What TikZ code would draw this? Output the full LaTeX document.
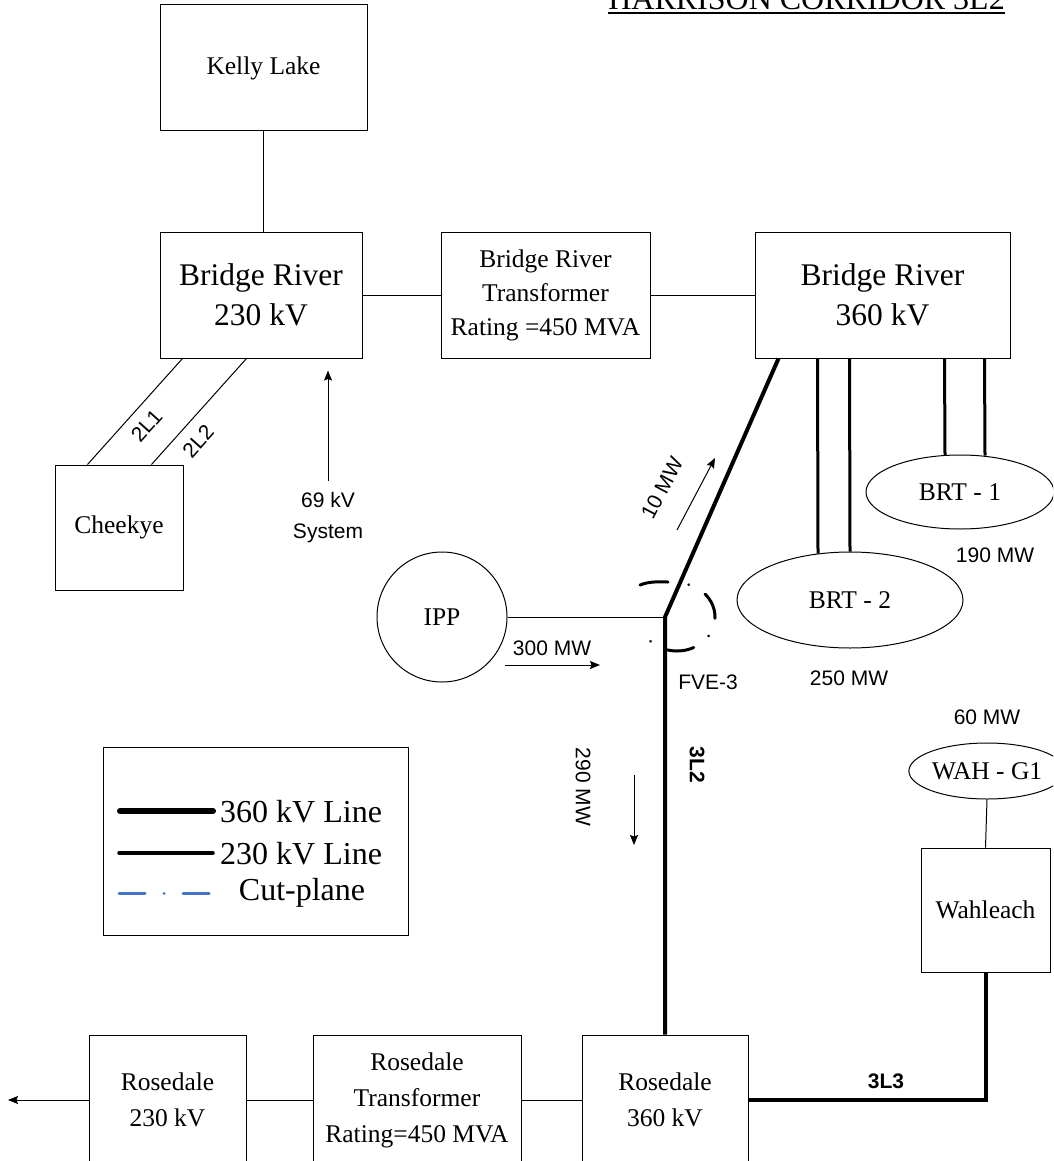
\documentclass[tikz,border=0pt]{standalone}
\usepackage{fontspec}
\setmainfont{Liberation Serif}
\setsansfont{Liberation Sans}
\usetikzlibrary{shapes.geometric,arrows,arrows.meta,positioning,calc}
\definecolor{cutblue}{RGB}{68,114,196}
\newcommand{\boxfont}{\fontsize{25.5}{34}\selectfont}
\newcommand{\rosfont}{\fontsize{25.5}{36}\selectfont}
\newcommand{\bigboxfont}{\fontsize{31.5}{40}\selectfont}
\newcommand{\legendfont}{\fontsize{32}{36}\selectfont}
\newcommand{\flowfont}{\sffamily\fontsize{21}{31}\selectfont}
\newcommand{\titlefont}{\fontsize{32}{36}\selectfont}

\begin{document}
\begin{tikzpicture}[
    x=1pt, y=-1pt,
    every node/.style={align=center},
    station/.style={rectangle, draw, line width=1pt, font=\boxfont, inner sep=0pt},
    bigstation/.style={station, font=\bigboxfont},
    rosstation/.style={station, font=\rosfont},
    unit/.style={ellipse, draw, line width=1pt, font=\boxfont, inner sep=0pt},
    flowlabel/.style={font=\flowfont},
    linelabel/.style={font=\flowfont\bfseries},
    line230/.style={line width=1pt},
    line360/.style={line width=4pt},
    tie/.style={line width=3pt},
    flow/.style={line width=1pt,-{Stealth[length=10pt,width=8pt,inset=1.5pt]}},
    cutplane/.style={line width=3pt, line cap=round}
]
\useasboundingbox (0,0) rectangle (1053,1161);
\clip (0,0) rectangle (1053,1161);
\fill[white] (0,0) rectangle (1053,1161);

% Title
\node[anchor=base east, font=\titlefont, inner sep=0pt] (title) at (1005,10) {HARRISON CORRIDOR 3L2};
\draw[line width=2pt] ($(title.base west)+(0,3)$) -- ($(title.base east)+(0,3)$);

% Northern stations
\node[station, minimum width=207pt, minimum height=126pt] (kelly) at (263.5,68) {Kelly Lake};
\node[bigstation, minimum width=202pt, minimum height=126pt] (br230) at (261,295) {Bridge River\\230 kV};
\node[station, minimum width=209pt, minimum height=126pt] (brtx) at (545.5,295) {Bridge River\\Transformer\\Rating =450 MVA};
\node[bigstation, minimum width=255pt, minimum height=126pt] (br360) at (882.5,295) {Bridge River\\360 kV};
\node[station, minimum width=128pt, minimum height=125pt] (cheekye) at (119,527.5) {Cheekye};

% Generation
\node[circle, draw, line width=1pt, minimum size=130pt, inner sep=0pt, font=\boxfont] (ipp) at (442,617) {IPP};
\node[unit, minimum width=188pt, minimum height=74pt] (brt1) at (960,492) {BRT - 1};
\node[unit, minimum width=226pt, minimum height=96pt] (brt2) at (850,600) {BRT - 2};
\node[unit, minimum width=128pt, minimum height=56pt] (wahg1) at (987,771) {WAH - G1};
\node[station, minimum width=129pt, minimum height=124pt] (wahleach) at (985.5,910) {Wahleach};

% Southern stations
\node[rosstation, minimum width=166pt, minimum height=130pt] (ros360) at (665,1100) {Rosedale\\360 kV};
\node[rosstation, minimum width=208pt, minimum height=130pt] (rostx) at (417,1100) {Rosedale\\Transformer\\Rating=450 MVA};
\node[rosstation, minimum width=157pt, minimum height=130pt] (ros230) at (167.5,1100) {Rosedale\\230 kV};

% Junction and free ends
\coordinate (fve) at (665,617);
\coordinate (westout) at (8,1100);
\coordinate (f300a) at (505,665);
\coordinate (f300b) at (600,665);
\coordinate (f10a) at (677,530);
\coordinate (f10b) at (715,458);
\coordinate (f290a) at (634,775);
\coordinate (f290b) at (634,845);

% Labels
\node[flowlabel] (sys69) at (328,518) {69 kV\\System};
\node[flowlabel] (mw300) at (552,648) {300 MW};
\node[flowlabel] (fve3) at (708,682) {FVE-3};
\node[flowlabel, rotate=62] (mw10) at (662,488) {10 MW};
\node[flowlabel, rotate=-90] (mw290) at (583,787) {290 MW};
\node[linelabel, rotate=-90] (l3l2) at (697,765) {3L2};
\node[flowlabel] (mw190) at (995,555) {190 MW};
\node[flowlabel] (mw250) at (849,678) {250 MW};
\node[flowlabel, above=14pt of wahg1] (mw60) {60 MW};

% 230 kV connections
\draw[line230] (kelly.south) -- (kelly.south |- br230.north);
\draw[line230] (br230.east) -- (brtx.west);
\draw[line230] (brtx.east) -- (br360.west);
\draw[line230] ($(cheekye.north west)+(33,0)$) -- node[flowlabel, sloped, below=7pt, pos=0.48] {2L1} ($(br230.south west)+(23,0)$);
\draw[line230] ($(cheekye.north west)+(97,0)$) -- node[flowlabel, sloped, below=8pt, pos=0.34] {2L2} ($(br230.south west)+(87,0)$);
\draw[flow] ($(sys69.north)+(0,-8)$) -- ($(sys69.north |- br230.south)+(0,12)$);
\draw[line230] (ipp.east) -- (fve);
\draw[line230] (wahg1.south) -- (wahleach.north);
\draw[line230] (ros360.west) -- (rostx.east);
\draw[line230] (rostx.west) -- (ros230.east);
\draw[flow] (ros230.west) -- (westout);

% 360 kV connections
\draw[line360] ($(br360.south west)+(24,0)$) -- (fve) -- (fve |- ros360.north);
\draw[tie] ($(br360.south west)+(63,0)$) -- ($(brt2.north)+(-32,2)$);
\draw[tie] ($(br360.south west)+(95,0)$) -- (brt2.north);
\draw[tie] ($(br360.south west)+(190,0)$) -- ($(brt1.north)+(-15,1)$);
\draw[tie] ($(br360.south west)+(230,0)$) -- ($(brt1.north)+(25,1)$);
\draw[line360] (wahleach.south) |- node[linelabel, pos=0.71, above=6pt] {3L3} (ros360.east);

% Flows
\draw[flow] (f300a) -- (f300b);
\draw[flow] (f10a) -- (f10b);
\draw[flow] (f290a) -- (f290b);

% Cut-plane
\draw[cutplane] ($(fve)+(-25,-32)$) .. controls ($(fve)+(-15,-36)$) and ($(fve)+(-6,-35)$) .. ($(fve)+(3,-35)$);
\draw[cutplane, dash pattern=on 0.01pt off 19pt on 27pt off 19pt] ($(fve)+(12,0)+(288:38 and 34)$) arc[start angle=288, end angle=495, x radius=38, y radius=34];

% Legend
\node[draw, line width=1pt, minimum width=305pt, minimum height=188pt] (legend) at (255.5,841) {};
\draw[line width=6pt, line cap=round] (120,811) -- (213,811);
\node[anchor=west, font=\legendfont, inner sep=0pt] (leg360) at (220,812) {360 kV Line};
\draw[line width=3.5pt, line cap=round] (119,853) -- (213,853);
\node[anchor=west, font=\legendfont, inner sep=0pt] (leg230) at (220,854) {230 kV Line};
\draw[cutblue, line width=3pt, line cap=round, dash pattern=on 26pt off 19pt on 0.01pt off 19pt] (119,893) -- (213,893);
\node[font=\legendfont, inner sep=0pt] (legcut) at (302,893) {Cut-plane};

\end{tikzpicture}
\end{document}
